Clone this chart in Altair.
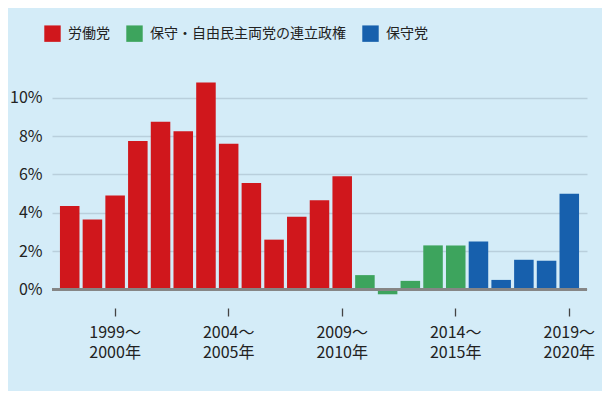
import altair as alt
import pandas as pd

# ---- data ----
start_years = list(range(1997, 2020))
values = [4.35, 3.65, 4.9, 7.75, 8.75, 8.25, 10.8, 7.6, 5.55, 2.6, 3.8, 4.65, 5.9,
          0.75, -0.25, 0.45, 2.3, 2.3,
          2.5, 0.5, 1.55, 1.5, 5.0]
governments = (["労働党"] * 13 + ["保守・自由民主両党の連立政権"] * 5 + ["保守党"] * 5)
party_names = ["労働党", "保守・自由民主両党の連立政権", "保守党"]
party_colors = ["#d0171c", "#3da45d", "#1760ad"]
labeled_years = [1999, 2004, 2009, 2014, 2019]

labels = [f"{y}～|{y + 1}年" for y in start_years]
df = pd.DataFrame({"period": labels, "value": values, "gov": governments})
tick_values = [f"{y}～|{y + 1}年" for y in labeled_years]

FONT = "Noto Sans CJK JP"
BG = "#d4ecf8"

y_scale = alt.Scale(domain=[-0.6, 11.5], nice=False, zero=False)

bars = alt.Chart(df).mark_bar().encode(
    x=alt.X("period:N", sort=None, title=None,
            scale=alt.Scale(paddingInner=0.14, paddingOuter=0.35),
            axis=alt.Axis(values=tick_values, labelExpr="split(datum.label, '|')",
                          labelAngle=0, domain=False, ticks=True, tickSize=8,
                          tickColor="#444444", tickWidth=1.3, offset=7,
                          labelPadding=8, labelFontSize=16, labelColor="#222222",
                          labelFont=FONT, labelLineHeight=20, labelBaseline="top",
                          labelLimit=200, grid=False)),
    y=alt.Y("value:Q", scale=y_scale, title=None,
            axis=alt.Axis(values=[0, 2, 4, 6, 8, 10], format="d",
                          labelExpr="datum.value + '%'", domain=False, ticks=False,
                          labelPadding=10, labelFontSize=16, labelColor="#222222",
                          labelFont=FONT, gridColor="#b9cfdc", gridWidth=1.5)),
    color=alt.Color("gov:N", scale=alt.Scale(domain=party_names, range=party_colors),
                    legend=alt.Legend(title=None, orient="none", direction="horizontal",
                                      legendX=-8, legendY=-44, symbolType="square",
                                      symbolSize=270, symbolStrokeWidth=0,
                                      symbolOpacity=1, labelFontSize=14,
                                      labelFont=FONT, labelColor="#222222",
                                      labelLimit=400,
                                      columnPadding=16, labelOffset=7)),
)

zero = alt.Chart(df).mark_rule(color="#858585", strokeWidth=2).encode(
    y=alt.datum(0, scale=y_scale)
)

chart = alt.layer(bars, zero).properties(
    width=535, height=232,
    background=BG,
    padding={"left": 44, "top": 61, "right": 15, "bottom": 90},
    autosize=alt.AutoSizeParams(type="none"),
).configure_view(stroke=None)

chart.save("out.html", embed_options={"renderer": "svg", "actions": False})
